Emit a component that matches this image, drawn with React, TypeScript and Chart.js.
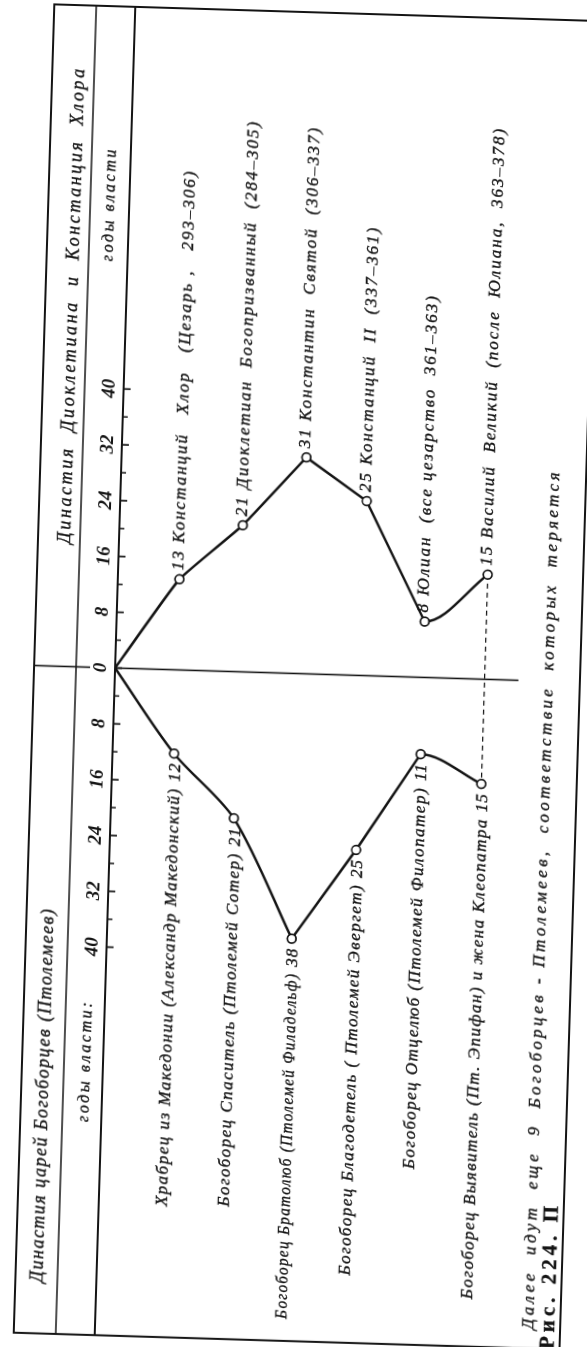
import React, { useEffect, useRef } from 'react';
import { Chart, registerables } from 'chart.js';

Chart.register(...registerables);

// ---------------- data ----------------
const upperNames = [
  'Констанций   Хлор   (Цезарь ,   293–306)',
  'Диоклетиан  Богопризванный  (284–305)',
  'Константин  Святой  (306–337)',
  'Констанций  II  (337–361)',
  'Юлиан  (все цезарство  361–363)',
  'Василий  Великий  (после  Юлиана,  363–378)',
];
const upperYears = [13, 21, 31, 25, 8, 15];

const lowerNames = [
  'Храбрец из Македонии (Александр Македонский)',
  'Богоборец Спаситель (Птолемей Сотер)',
  'Богоборец Братолюб (Птолемей Филадельф)',
  'Богоборец Благодетель ( Птолемей Эвергет)',
  'Богоборец Отцелюб (Птолемей Филопатер)',
  'Богоборец Выявитель (Пт. Эпифан) и жена Клеопатра',
];
const lowerYears = [12, 21, 38, 25, 11, 15];

const majorTicks = [-40, -32, -24, -16, -8, 0, 8, 16, 24, 32, 40];
const tickLabels = ['40', '32', '24', '16', '8', '0', '8', '16', '24', '32', '40'];
const minorTicks = [-36, -28, -20, -12, -4, 4, 12, 20, 28, 36];

const headerUpper = 'Династия  Диоклетиана  и  Констанция  Хлора';
const headerLower = 'Династия царей Богоборцев (Птолемеев)';
const reignUpper = 'годы власти';
const reignLower = 'годы власти:';
const noteText = 'Далее  идут  еще  9  Богоборцев - Птолемеев,  соответствие  которых  теряется';
const captionText = 'Рис. 224. П';

// ---------------- layout / style ----------------
const W = 1347;
const H = 587;
const INK = '#141414';
const SERIF = '"Liberation Serif", "DejaVu Serif", serif';
const FRAME_TOP = 34;
const FRAME_BOTTOM = 580;
const HEADER_DIV = 76;

function spacedText(
  ctx: CanvasRenderingContext2D,
  text: string,
  x: number,
  y: number,
  align: CanvasTextAlign,
  font: string,
  spacing: number,
  weight = 0.35,
  maxWidth?: number
) {
  ctx.font = font;
  (ctx as any).letterSpacing = spacing + 'px';
  ctx.textAlign = align;
  ctx.textBaseline = 'middle';
  const w = ctx.measureText(text).width;
  const mw = maxWidth !== undefined && w > maxWidth ? maxWidth : undefined;
  if (mw !== undefined) ctx.fillText(text, x, y, mw);
  else ctx.fillText(text, x, y);
  if (weight > 0) {
    ctx.lineWidth = weight;
    if (mw !== undefined) ctx.strokeText(text, x, y, mw);
    else ctx.strokeText(text, x, y);
  }
  (ctx as any).letterSpacing = '0px';
  return mw !== undefined ? mw : w;
}

function seg(ctx: CanvasRenderingContext2D, x1: number, y1: number, x2: number, y2: number, w: number) {
  ctx.lineWidth = w;
  ctx.beginPath();
  ctx.moveTo(x1, y1);
  ctx.lineTo(x2, y2);
  ctx.stroke();
}

const decorPlugin = {
  id: 'decor',
  beforeDraw(chart: any) {
    const { ctx } = chart;
    ctx.save();
    ctx.fillStyle = '#ffffff';
    ctx.fillRect(0, 0, chart.width, chart.height);
    ctx.restore();
  },
  afterDraw(chart: any) {
    const { ctx, chartArea: a } = chart;
    const xs = chart.scales.x;
    const ys = chart.scales.y;
    ctx.save();
    ctx.strokeStyle = INK;
    ctx.fillStyle = INK;
    ctx.lineCap = 'butt';

    // frame
    ctx.lineWidth = 2;
    ctx.strokeRect(a.left, FRAME_TOP, a.right - a.left, FRAME_BOTTOM - FRAME_TOP);
    // header divider
    seg(ctx, a.left, HEADER_DIV, a.right, HEADER_DIV, 1.5);
    // axis line
    seg(ctx, a.left, a.top, a.right, a.top, 1.9);
    // zero line
    const x0 = xs.getPixelForValue(0);
    seg(ctx, x0, FRAME_TOP, x0, 90, 1.6);
    seg(ctx, x0, a.top, x0, ys.getPixelForValue(6.55), 1.6);

    // inward tick marks
    majorTicks.forEach((v) => {
      const px = xs.getPixelForValue(v);
      seg(ctx, px, a.top, px, a.top + 7, 1.7);
    });
    minorTicks.forEach((v) => {
      const px = xs.getPixelForValue(v);
      seg(ctx, px, a.top, px, a.top + 5, 1.5);
    });

    const labelFont = `italic 17px ${SERIF}`;
    // upper dynasty labels
    upperYears.forEach((v, i) => {
      const px = xs.getPixelForValue(v) + 9;
      const py = ys.getPixelForValue(i + 1) - 1;
      spacedText(ctx, `${v} ${upperNames[i]}`, px, py, 'left', labelFont, 2.0);
    });
    // lower dynasty labels: number next to the point, name before it
    lowerYears.forEach((v, i) => {
      const px = xs.getPixelForValue(-v) - 9;
      const py = ys.getPixelForValue(i + 1) + 2;
      const nw = spacedText(ctx, String(v), px, py, 'right', labelFont, 1.0);
      const end = px - nw - 6;
      spacedText(ctx, lowerNames[i], end, py, 'right', labelFont, 1.5, 0.35, end - a.left - 22);
    });

    // headers
    spacedText(ctx, headerLower, 57, 56, 'left', `italic 18px ${SERIF}`, 1.5);
    spacedText(ctx, headerUpper, 1035, 61, 'center', `italic 18px ${SERIF}`, 2.6);
    spacedText(ctx, reignLower, 280, 98, 'center', `italic 16px ${SERIF}`, 2.6);
    spacedText(ctx, reignUpper, 1137, 96, 'center', `italic 16px ${SERIF}`, 2.6);

    // note + caption
    spacedText(ctx, noteText, 25, 549, 'left', `italic 17px ${SERIF}`, 3.4);
    spacedText(ctx, captionText, 6, 569, 'left', `bold 21px ${SERIF}`, 4, 0.3);
    ctx.restore();
  },
};

export default function App() {
  const ref = useRef<HTMLCanvasElement | null>(null);

  useEffect(() => {
    const canvas = ref.current;
    if (!canvas) return;
    const origin = { x: 0, y: 0 };
    const up = upperYears.map((v, i) => ({ x: v, y: i + 1 }));
    const lo = lowerYears.map((v, i) => ({ x: -v, y: i + 1 }));
    const hidden = 'rgba(0,0,0,0)';
    const base = {
      borderColor: INK,
      borderWidth: 2.5,
      pointRadius: 0,
      fill: false,
      clip: false as any,
    };

    const allTicks = [...majorTicks, ...minorTicks].sort((p, q) => p - q);

    const chart = new Chart(canvas, {
      type: 'line',
      data: {
        datasets: [
          // circle markers on top
          {
            data: [...up, ...lo],
            showLine: false,
            pointRadius: 4.4,
            pointBorderWidth: 1.7,
            pointBackgroundColor: '#ffffff',
            pointBorderColor: INK,
            order: -1,
          } as any,
          { ...base, data: [origin, up[0], up[1], up[2]], tension: 0.12 },
          { ...base, data: [up[2], up[3], up[4]], tension: 0 },
          {
            ...base,
            data: [up[3], up[4], up[5]],
            indexAxis: 'y',
            cubicInterpolationMode: 'monotone',
            segment: { borderColor: (c: any) => (c.p0DataIndex === 0 ? hidden : INK) },
          } as any,
          { ...base, data: [origin, lo[0], lo[1], lo[2]], tension: 0.3 },
          { ...base, data: [lo[2], lo[3], lo[4]], tension: 0 },
          {
            ...base,
            data: [lo[3], lo[4], lo[5]],
            indexAxis: 'y',
            cubicInterpolationMode: 'monotone',
            segment: { borderColor: (c: any) => (c.p0DataIndex === 0 ? hidden : INK) },
          } as any,
          { ...base, data: [up[5], lo[5]], borderWidth: 1.4, borderDash: [5, 4] },
        ],
      },
      options: {
        responsive: false,
        animation: false,
        devicePixelRatio: 1,
        layout: { padding: { top: FRAME_TOP, left: 6, right: 12, bottom: 10 } },
        plugins: { legend: { display: false }, tooltip: { enabled: false } },
        scales: {
          x: {
            type: 'linear',
            position: 'top',
            min: -95.63,
            max: 94.77,
            grid: { display: false, drawTicks: false },
            border: { display: false },
            afterBuildTicks: (s: any) => {
              s.ticks = allTicks.map((v) => ({ value: v }));
            },
            afterFit: (s: any) => {
              s.height = 115 - FRAME_TOP;
            },
            ticks: {
              autoSkip: false,
              maxRotation: 0,
              minRotation: 0,
              padding: 3,
              color: INK,
              font: { family: SERIF, size: 19, style: 'italic', weight: 'bold' },
              callback: (v: any) => {
                const k = majorTicks.indexOf(Number(v));
                return k >= 0 ? tickLabels[k] : '';
              },
            },
          },
          y: {
            type: 'linear',
            display: false,
            reverse: true,
            min: 0,
            max: 7.5,
          },
        },
      } as any,
      plugins: [decorPlugin],
    });
    return () => chart.destroy();
  }, []);

  return (
    <div
      style={{
        position: 'fixed',
        left: 0,
        top: 0,
        width: 587,
        height: 1347,
        overflow: 'hidden',
        background: '#ffffff',
      }}
    >
      <canvas
        ref={ref}
        width={W}
        height={H}
        style={{
          position: 'absolute',
          left: (587 - W) / 2,
          top: (1347 - H) / 2,
          width: W,
          height: H,
          transform: 'rotate(-88.25deg)',
        }}
      />
    </div>
  );
}
